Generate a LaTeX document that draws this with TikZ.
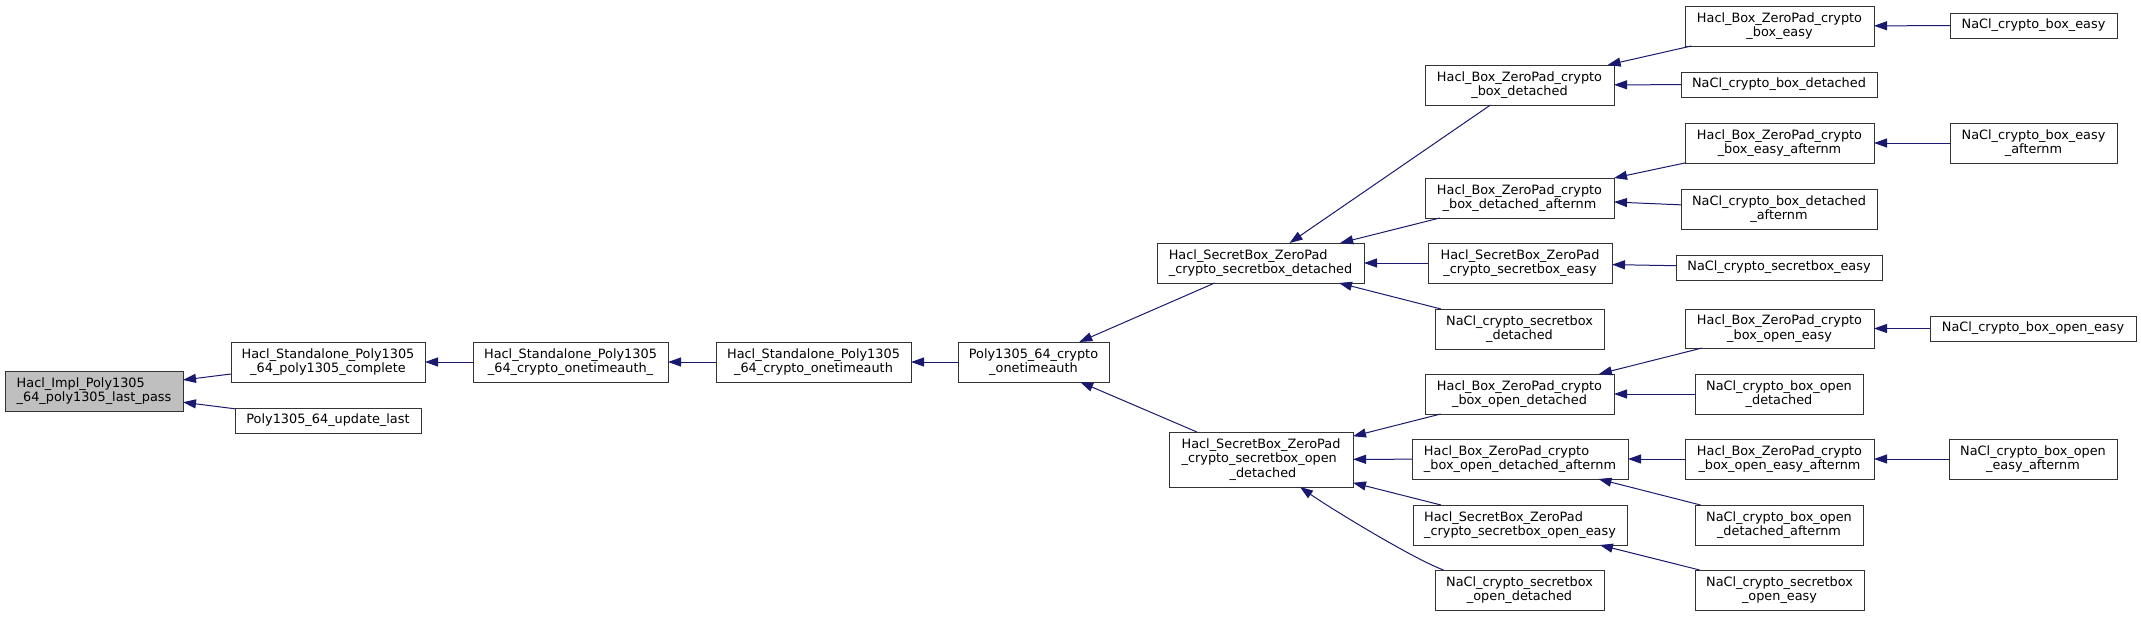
\documentclass[tikz,border=0pt]{standalone}
\usepackage{fontspec}
\setmainfont{DejaVu Sans}
\usetikzlibrary{arrows.meta,calc}
\definecolor{mblue}{RGB}{25,25,112}
\definecolor{nodegray}{RGB}{191,191,191}
\tikzset{
  fnbox/.style={draw=black!80, line width=1pt, fill=white, inner sep=0pt, outer sep=0pt,
    font=\fontsize{12.85pt}{14.5pt}\selectfont, align=center, text=black},
  calledge/.style={draw=mblue, line width=1pt, -{Triangle[length=13pt,width=9pt]}},
}
\begin{document}
\begin{tikzpicture}[x=1pt,y=-1pt]
\useasboundingbox (0,0) rectangle (2141,616);
% column 0-5
\node[fnbox, fill=nodegray, align=left, minimum width=178pt, minimum height=40pt] (impl) at (94,391) {Hacl\_Impl\_Poly1305\\\_64\_poly1305\_last\_pass};
\node[fnbox, minimum width=194pt, minimum height=40pt] (complete) at (328,362) {Hacl\_Standalone\_Poly1305\\\_64\_poly1305\_complete};
\node[fnbox, minimum width=186pt, minimum height=25pt] (update) at (328,420.5) {Poly1305\_64\_update\_last};
\node[fnbox, minimum width=195pt, minimum height=40pt] (otau) at (570.5,362) {Hacl\_Standalone\_Poly1305\\\_64\_crypto\_onetimeauth\_};
\node[fnbox, minimum width=195pt, minimum height=40pt] (ota) at (813.5,362) {Hacl\_Standalone\_Poly1305\\\_64\_crypto\_onetimeauth};
\node[fnbox, minimum width=151pt, minimum height=40pt] (poly) at (1033.5,362) {Poly1305\_64\_crypto\\\_onetimeauth};
% secretbox level
\node[fnbox, align=left, minimum width=207pt, minimum height=40pt] (sbd) at (1260.5,263) {Hacl\_SecretBox\_ZeroPad\\\_crypto\_secretbox\_detached};
\node[fnbox, align=left, minimum width=184pt, minimum height=55pt] (sbod) at (1261,459.5) {Hacl\_SecretBox\_ZeroPad\\\_crypto\_secretbox\_open\\\hspace*{48pt}\_detached};
% middle column
\node[fnbox, minimum width=189pt, minimum height=40pt] (bd) at (1519.5,85) {Hacl\_Box\_ZeroPad\_crypto\\\_box\_detached};
\node[fnbox, minimum width=189pt, minimum height=40pt] (bda) at (1519.5,198) {Hacl\_Box\_ZeroPad\_crypto\\\_box\_detached\_afternm};
\node[fnbox, minimum width=184pt, minimum height=40pt] (sbe) at (1520,263) {Hacl\_SecretBox\_ZeroPad\\\_crypto\_secretbox\_easy};
\node[fnbox, minimum width=169pt, minimum height=40pt] (nsbd) at (1519.5,329) {NaCl\_crypto\_secretbox\\\_detached};
\node[fnbox, minimum width=189pt, minimum height=40pt] (bod) at (1519.5,394) {Hacl\_Box\_ZeroPad\_crypto\\\_box\_open\_detached};
\node[fnbox, align=left, minimum width=216pt, minimum height=40pt] (boda) at (1520,459) {Hacl\_Box\_ZeroPad\_crypto\\\_box\_open\_detached\_afternm};
\node[fnbox, align=left, minimum width=214pt, minimum height=40pt] (sboe) at (1520,525) {Hacl\_SecretBox\_ZeroPad\\\_crypto\_secretbox\_open\_easy};
\node[fnbox, minimum width=169pt, minimum height=40pt] (nsbod) at (1519.5,590) {NaCl\_crypto\_secretbox\\\_open\_detached};
% right columns
\node[fnbox, minimum width=189pt, minimum height=40pt] (be) at (1779.5,26) {Hacl\_Box\_ZeroPad\_crypto\\\_box\_easy};
\node[fnbox, minimum width=167pt, minimum height=25pt] (nbe) at (2033.5,25.5) {NaCl\_crypto\_box\_easy};
\node[fnbox, minimum width=196pt, minimum height=25pt] (nbd) at (1779,84.5) {NaCl\_crypto\_box\_detached};
\node[fnbox, minimum width=189pt, minimum height=40pt] (bea) at (1779.5,143) {Hacl\_Box\_ZeroPad\_crypto\\\_box\_easy\_afternm};
\node[fnbox, minimum width=167pt, minimum height=40pt] (nbea) at (2033.5,143) {NaCl\_crypto\_box\_easy\\\_afternm};
\node[fnbox, minimum width=196pt, minimum height=40pt] (nbda) at (1779,209) {NaCl\_crypto\_box\_detached\\\_afternm};
\node[fnbox, minimum width=206pt, minimum height=25pt] (nsbe) at (1779,267.5) {NaCl\_crypto\_secretbox\_easy};
\node[fnbox, minimum width=189pt, minimum height=39pt] (boe) at (1779.5,328.5) {Hacl\_Box\_ZeroPad\_crypto\\\_box\_open\_easy};
\node[fnbox, minimum width=206pt, minimum height=25pt] (nboe) at (2033,328.5) {NaCl\_crypto\_box\_open\_easy};
\node[fnbox, minimum width=168pt, minimum height=40pt] (nbod) at (1779,394) {NaCl\_crypto\_box\_open\\\_detached};
\node[fnbox, minimum width=189pt, minimum height=40pt] (boea) at (1779.5,459) {Hacl\_Box\_ZeroPad\_crypto\\\_box\_open\_easy\_afternm};
\node[fnbox, minimum width=168pt, minimum height=40pt] (nboea) at (2033,459) {NaCl\_crypto\_box\_open\\\_easy\_afternm};
\node[fnbox, minimum width=168pt, minimum height=40pt] (nboda) at (1779,525) {NaCl\_crypto\_box\_open\\\_detached\_afternm};
\node[fnbox, minimum width=169pt, minimum height=40pt] (nsboe) at (1779.5,590) {NaCl\_crypto\_secretbox\\\_open\_easy};
% edges (caller -> callee, arrow at callee)
\draw[calledge] (complete) -- (impl);
\draw[calledge] (update) -- (impl);
\draw[calledge] (otau) -- (complete);
\draw[calledge] (ota) -- (otau);
\draw[calledge] (poly) -- (ota);
\draw[calledge] (sbd) -- (poly);
\draw[calledge] (sbod) -- (poly);
\draw[calledge] (bd) -- (sbd);
\draw[calledge] (bda) -- (sbd);
\draw[calledge] (sbe) -- (sbd);
\draw[calledge] (nsbd) -- (sbd);
\draw[calledge] (be) -- (bd);
\draw[calledge] (nbd) -- (bd);
\draw[calledge] (nbe) -- (be);
\draw[calledge] (bea) -- (bda);
\draw[calledge] (nbda) -- (bda);
\draw[calledge] (nbea) -- (bea);
\draw[calledge] (nsbe) -- (sbe);
\draw[calledge] (bod) -- (sbod);
\draw[calledge] (boda) -- (sbod);
\draw[calledge] (sboe) -- (sbod);
\draw[calledge] ([xshift=-76pt]nsbod.north) .. controls +(-30,-11) and +(30,21) .. ([xshift=39pt]sbod.south);
\draw[calledge] (boe) -- (bod);
\draw[calledge] (nbod) -- (bod);
\draw[calledge] (nboe) -- (boe);
\draw[calledge] (boea) -- (boda);
\draw[calledge] (nboda) -- (boda);
\draw[calledge] (nboea) -- (boea);
\draw[calledge] (nsboe) -- (sboe);
\end{tikzpicture}
\end{document}
